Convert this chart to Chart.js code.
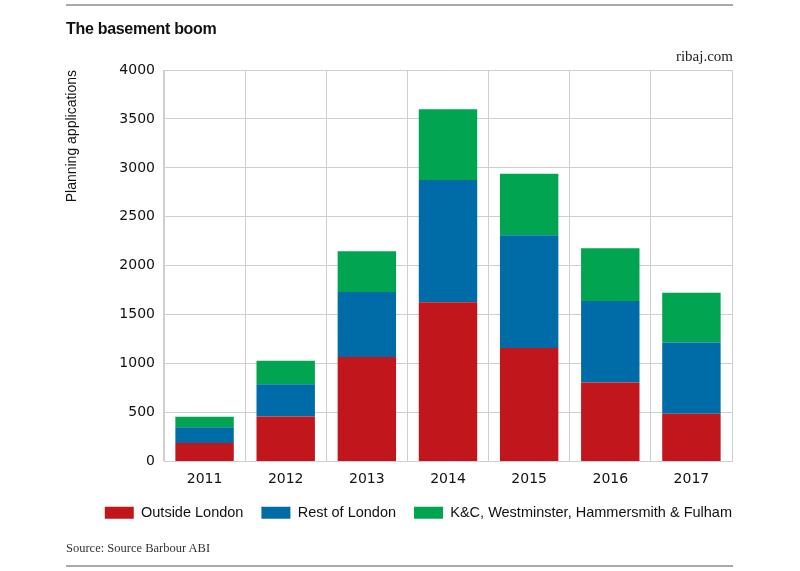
<!DOCTYPE html>
<html>
<head>
<meta charset="utf-8">
<script src="https://cdn.jsdelivr.net/npm/chart.js@4.4.0/dist/chart.umd.min.js"></script>
<style>
  body { margin: 0; background: #fff; }
  #wrap { position: relative; width: 800px; height: 571px; }
  #myChart { position: absolute; left: 0; top: 0; }
  .rule { position: absolute; left: 66px; width: 667px; height: 2px; background: #a9a9a9; }
  #title { position: absolute; left: 66px; top: 20px; font: bold 16px "Liberation Sans", Arial, sans-serif; color: #111; letter-spacing: -0.3px; }
  #site { position: absolute; right: 67px; top: 48px; font: 15px "Liberation Serif", "DejaVu Serif", serif; color: #222; }
  #source { position: absolute; left: 66px; top: 541px; font: 12.5px "Liberation Serif", "DejaVu Serif", serif; color: #333; }
</style>
</head>
<body>
<div id="wrap">
  <canvas id="myChart" width="800" height="571"></canvas>
  <div class="rule" style="top:4px"></div>
  <div id="title">The basement boom</div>
  <div id="site">ribaj.com</div>
  <div id="source">Source: Source Barbour ABI</div>
  <div class="rule" style="top:565px"></div>
</div>
<script>
var years = ['2011', '2012', '2013', '2014', '2015', '2016', '2017'];
var outsideLondon = [190, 460, 1067, 1627, 1159, 808, 488];
var restOfLondon = [160, 328, 665, 1248, 1153, 832, 729];
var centralBoroughs = [106, 242, 416, 723, 627, 539, 508];
var yTicks = [0, 500, 1000, 1500, 2000, 2500, 3000, 3500, 4000];

// legend rows carry trailing padding; push the row so its last label ends at the plot edge
var legendShift = {
    id: 'legendShift',
    afterLayout: function (chart) {
        chart.legend.right += 18;
    }
};

var ctx = document.getElementById('myChart').getContext('2d');
var myChart = new Chart(ctx, {
    type: 'bar',
    data: {
        labels: years,
        datasets: [{
            label: 'Outside London',
            data: outsideLondon,
            backgroundColor: '#c1161c'
        }, {
            label: 'Rest of London',
            data: restOfLondon,
            backgroundColor: '#006ca7'
        }, {
            label: 'K&C, Westminster, Hammersmith & Fulham',
            data: centralBoroughs,
            backgroundColor: '#00a451'
        }]
    },
    options: {
        responsive: false,
        animation: false,
        datasets: {
            bar: {
                categoryPercentage: 0.72,
                barPercentage: 1
            }
        },
        layout: {
            padding: { left: 60, right: 68, top: 70, bottom: 41 }
        },
        plugins: {
            tooltip: { enabled: false },
            legend: {
                position: 'bottom',
                align: 'end',
                labels: {
                    boxWidth: 29,
                    boxHeight: 12,
                    padding: 18,
                    color: '#111',
                    font: { family: '"Liberation Sans", Arial, sans-serif', size: 14.5 }
                }
            }
        },
        scales: {
            x: {
                stacked: true,
                grid: { color: '#cfcfcf', drawTicks: false },
                border: { color: '#cfcfcf' },
                ticks: {
                    padding: 9,
                    color: '#111',
                    font: { family: '"DejaVu Sans", sans-serif', size: 14 }
                },
                afterFit: function (scale) { scale.height = 26; }
            },
            y: {
                stacked: true,
                min: 0,
                max: 4000,
                afterBuildTicks: function (scale) {
                    scale.ticks = yTicks.map(function (v) { return { value: v }; });
                },
                grid: { color: '#cfcfcf', drawTicks: false },
                border: { color: '#cfcfcf' },
                ticks: {
                    padding: 9,
                    color: '#111',
                    font: { family: '"DejaVu Sans", sans-serif', size: 14 },
                    callback: function (value) { return String(value); }
                },
                title: {
                    display: true,
                    text: 'Planning applications',
                    align: 'end',
                    color: '#111',
                    font: { family: '"Liberation Sans", Arial, sans-serif', size: 14 }
                },
                afterFit: function (scale) { scale.width = 104; }
            }
        }
    },
    plugins: [legendShift]
});
</script>
</body>
</html>
